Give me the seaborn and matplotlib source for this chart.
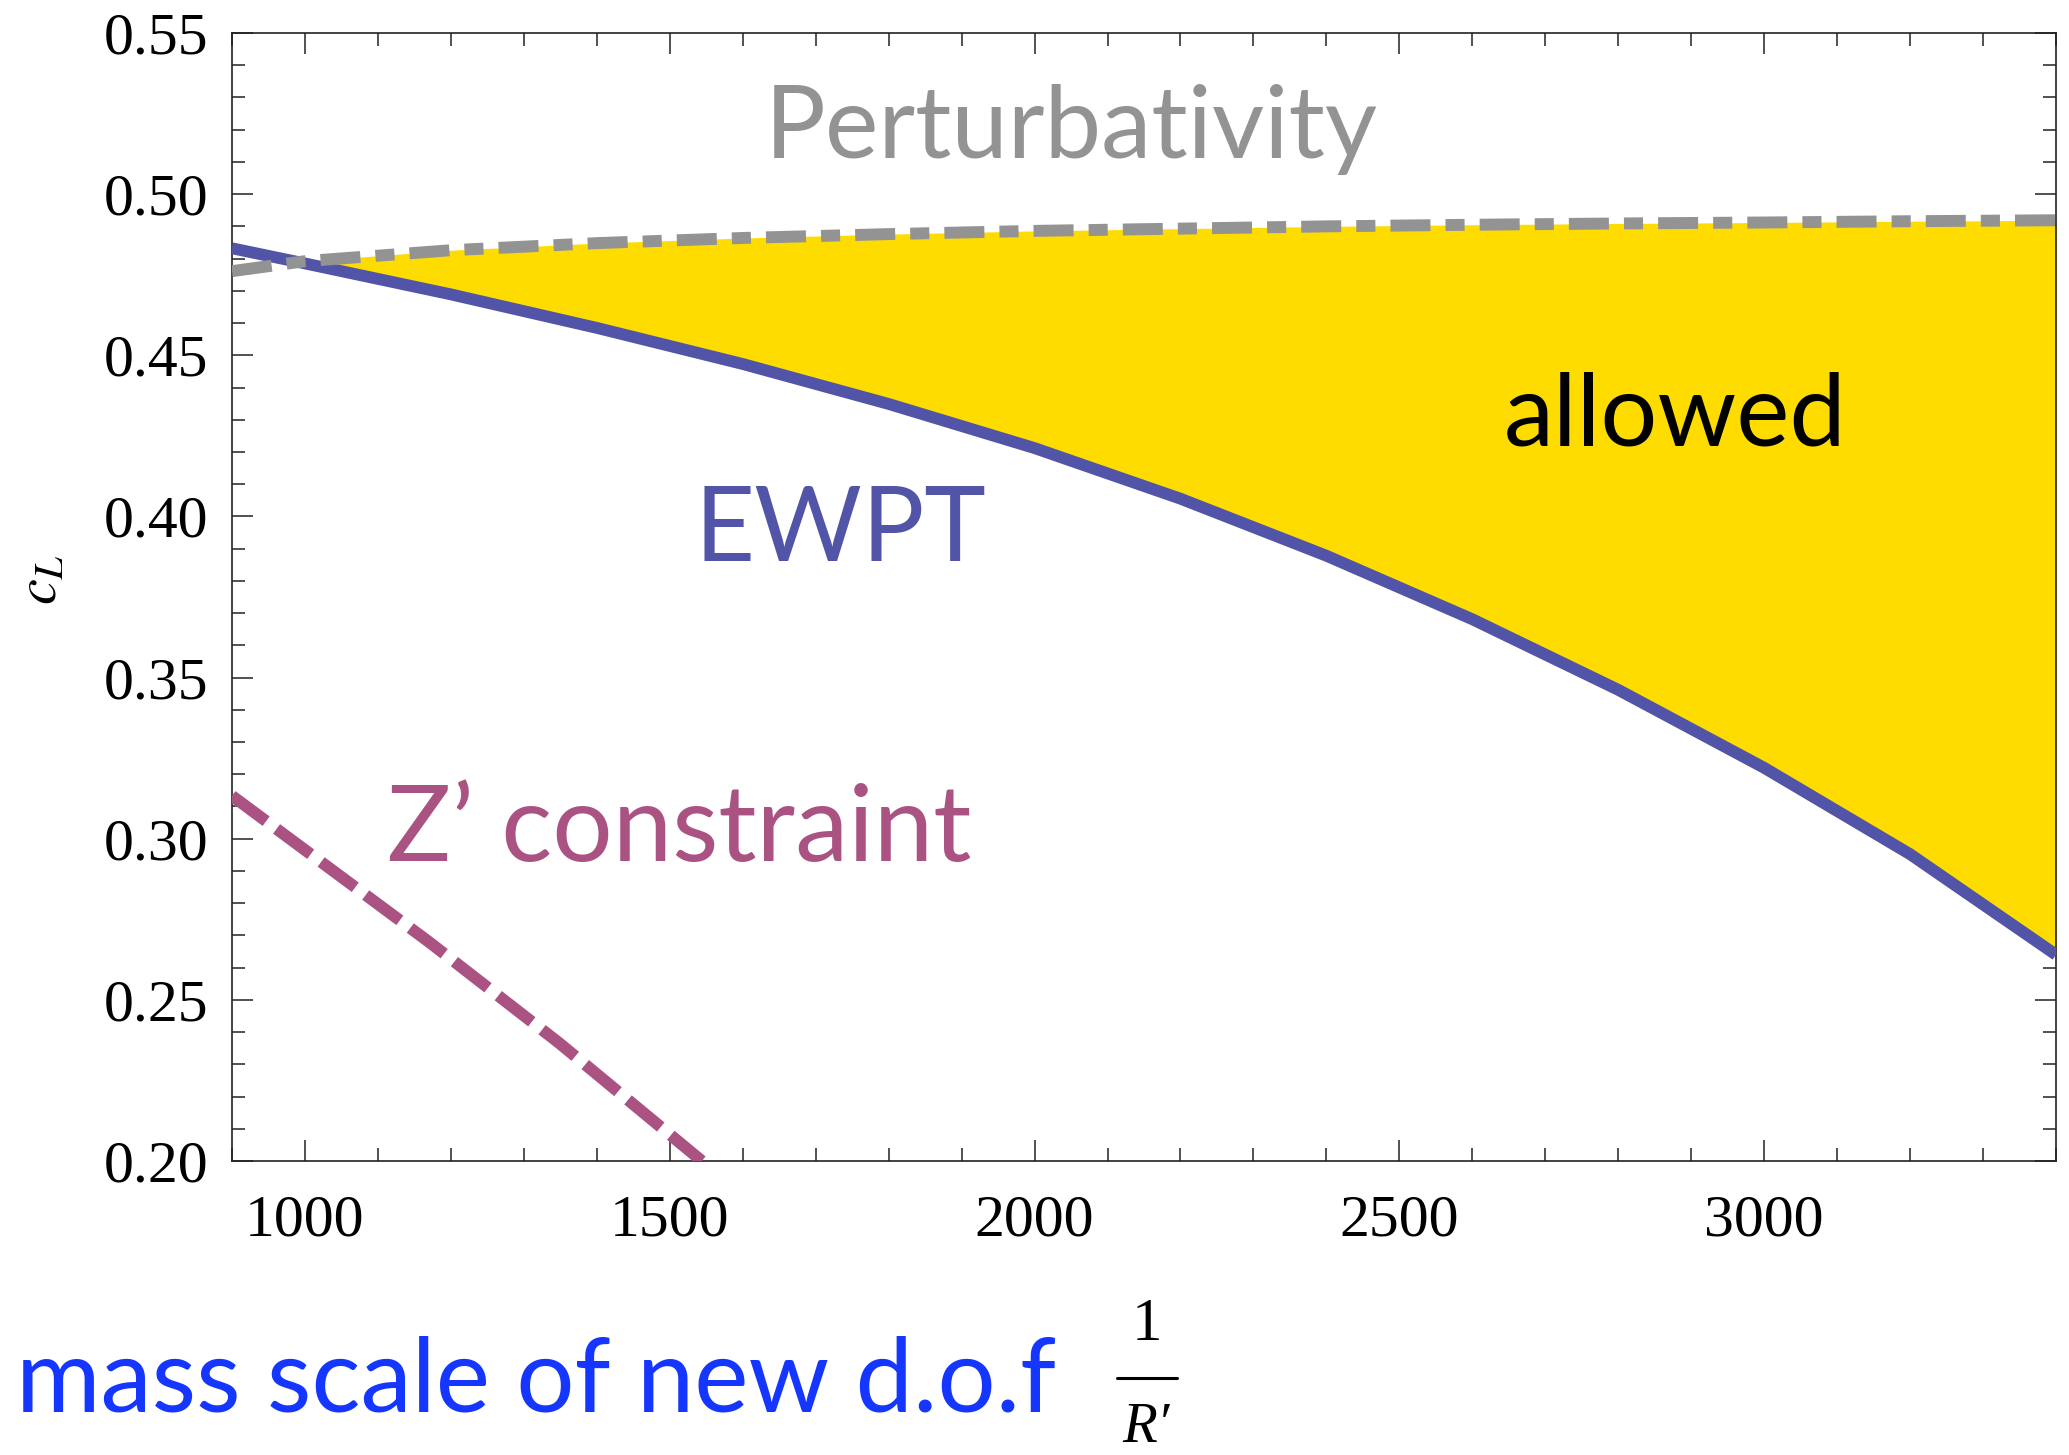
import matplotlib
matplotlib.use("Agg")
import matplotlib.pyplot as plt
from matplotlib.lines import Line2D
import numpy as np
import pandas as pd
import seaborn as sns

# ---------------- data ----------------
mass_x = [900, 1000, 1200, 1400, 1600, 1800, 2000, 2200, 2400, 2600, 2800, 3000, 3200, 3400]
ewpt_cl = [0.4832, 0.4785, 0.4689, 0.4585, 0.4473, 0.4349, 0.4212, 0.4055, 0.3878, 0.3681, 0.3462, 0.3220, 0.2952, 0.2640]
pert_cl = [0.4761, 0.4792, 0.4826, 0.4848, 0.4864, 0.4876, 0.4886, 0.4893, 0.4900, 0.4905, 0.4909, 0.4912, 0.4916, 0.4919]
zprime_x = [900, 1171, 1349, 1544]
zprime_cl = [0.3133, 0.2678, 0.2365, 0.200]

x_major = [1000, 1500, 2000, 2500, 3000]
y_major = [0.20, 0.25, 0.30, 0.35, 0.40, 0.45, 0.50, 0.55]
y_ticklabels = ["0.20", "0.25", "0.30", "0.35", "0.40", "0.45", "0.50", "0.55"]

# ---------------- style ----------------
sns.set_theme(style="ticks")
plt.rcParams["font.family"] = ["Lato", "DejaVu Sans"]
plt.rcParams["mathtext.fontset"] = "stix"

C_YELLOW = "#FFDC00"
C_BLUE = "#5254A8"
C_GRAY = "#939393"
C_PINK = "#AA5383"
C_XLAB = "#1436FF"

W, H = 2069, 1455
fig = plt.figure(figsize=(W / 100, H / 100), dpi=100)
fig.patch.set_facecolor("white")
L, R, T, B = 232, 2056, 33, 1161
ax = fig.add_axes([L / W, 1 - B / H, (R - L) / W, (B - T) / H])
ax.set_facecolor("white")

df = pd.DataFrame({"x": mass_x, "ewpt": ewpt_cl, "pert": pert_cl})
dz = pd.DataFrame({"x": zprime_x, "z": zprime_cl})

ax.fill_between(df["x"], df["ewpt"], df["pert"], where=np.array(ewpt_cl) <= np.array(pert_cl),
                interpolate=True, color=C_YELLOW, linewidth=0, zorder=1)

sns.lineplot(data=df, x="x", y="ewpt", color=C_BLUE, linewidth=8.5, ax=ax, zorder=3)
ln = ax.lines[-1]
ln.set_solid_capstyle("butt")
ln.set_solid_joinstyle("round")
sns.lineplot(data=df, x="x", y="pert", color=C_GRAY, linewidth=8.6, ax=ax, zorder=4)
ln = ax.lines[-1]
ln.set_linestyle((0, (3.35, 1.26, 1.6, 1.26)))
ln.set_dash_capstyle("butt")
sns.lineplot(data=dz, x="x", y="z", color=C_PINK, linewidth=8.5, ax=ax, zorder=4)
ln = ax.lines[-1]
ln.set_linestyle((0, (3.6, 1.1)))
ln.set_dash_capstyle("butt")

ax.set_xlim(900, 3400)
ax.set_ylim(0.20, 0.55)
ax.set_xticks(x_major)
ax.set_xticks(np.arange(900, 3401, 100), minor=True)
ax.set_yticks(y_major)
ax.set_yticklabels(y_ticklabels)
ax.set_yticks(np.arange(0.20, 0.5501, 0.01), minor=True)
ax.set_xlabel("")
ax.set_ylabel("")

for sp in ax.spines.values():
    sp.set_visible(True)
    sp.set_linewidth(1.2)
    sp.set_color("#222222")

ax.tick_params(which="both", direction="in", top=True, right=True, color="#222222", width=1.1)
ax.tick_params(which="major", length=15)
ax.tick_params(which="minor", length=9.5)
ax.tick_params(axis="x", which="major", pad=24)
ax.tick_params(axis="y", which="major", pad=17)
for lab in ax.get_xticklabels() + ax.get_yticklabels():
    lab.set_fontfamily("Liberation Serif")
    lab.set_fontsize(43)
    lab.set_color("black")

# ---------------- annotations ----------------
def ftext(px, py, s, **kw):
    return fig.text(px / W, 1 - py / H, s, **kw)

renderer = fig.canvas.get_renderer()

def fit(t, target_w):
    w = t.get_window_extent(renderer).width
    t.set_fontsize(t.get_fontsize() * target_w / w)

t1 = ftext(765, 158, "Perturbativity", color=C_GRAY, fontsize=70, ha="left", va="baseline")
fit(t1, 614)
t2 = ftext(1504, 446, "allowed", color="black", fontsize=60, ha="left", va="baseline")
fit(t2, 343)
t3 = ftext(695, 561, "EWPT", color=C_BLUE, fontsize=60, ha="left", va="baseline")
fit(t3, 292)
t4 = ftext(387, 861, "Z\u2019 constraint", color=C_PINK, fontsize=60, ha="left", va="baseline")
fit(t4, 585)
t5 = ftext(16, 1412, "mass scale of new d.o.f", color=C_XLAB, fontsize=80, ha="left", va="baseline")
fit(t5, 1040)

# fraction 1 / R'
ftext(1147, 1340, "1", color="black", fontsize=44, family="Liberation Serif", ha="center", va="baseline")
fig.add_artist(Line2D([1117 / W, 1177 / W], [1 - 1378 / H, 1 - 1378 / H], color="black", linewidth=2.2))
ftext(1146, 1442, "R\u2032", color="black", fontsize=41, family="Liberation Serif", style="italic",
      ha="center", va="baseline")

ftext(40, 580, r"$c_L$", color="black", fontsize=42, ha="center", va="center", rotation=90)

fig.savefig("out.png", dpi=100, facecolor="white")
